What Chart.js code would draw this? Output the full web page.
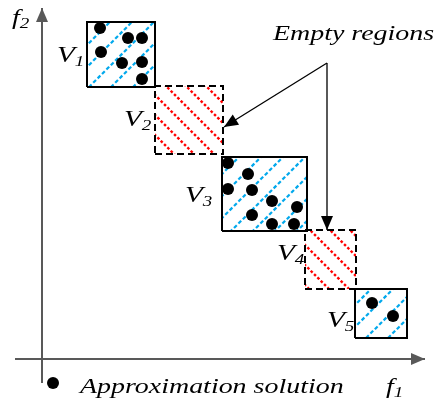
<!DOCTYPE html>
<html>
<head>
<meta charset="utf-8">
<script src="https://cdn.jsdelivr.net/npm/chart.js@4.4.0/dist/chart.umd.min.js"></script>
<style>
  html, body { margin: 0; padding: 0; background: #fff; }
  #wrap { width: 436px; height: 406px; }
</style>
</head>
<body>
<div id="wrap"><canvas id="chart" width="436" height="406"></canvas></div>
<script>
// Regions V1..V5 in objective space (f1, f2)
const regionNames = ['V', 'V', 'V', 'V', 'V'];
const regionSubs = ['1', '2', '3', '4', '5'];
const regionF1Min = [45, 113, 180, 263, 313];
const regionF1Max = [113, 181, 265, 314, 365];
const regionF2Min = [272, 205, 128, 70, 21];
const regionF2Max = [337, 273, 202, 129, 70];
const regionEmpty = [false, true, false, true, false];

// Approximation solutions (black dots)
const solutionF1 = [58, 86, 100, 59, 80, 100, 100, 186, 206, 186, 210, 230, 255, 210, 230, 252, 330, 351];
const solutionF2 = [331, 321, 321, 307, 296, 297, 280, 196, 185, 170, 169, 158, 152, 144, 135, 135, 56, 43];

// Axis extents
const axisF1 = [-27, 383];
const axisF2 = [-24, 351];

// "Empty regions" callout: shared start and the two tips
const calloutStart = [285, 296];
const calloutTipF1 = [182, 285];
const calloutTipF2 = [232, 129];

const TEXT_SX = 1.27;   // the figure is stretched horizontally
const SERIF = '"Liberation Serif", "Times New Roman", serif';

// Dotted diagonal hatch as a canvas pattern
function makeHatch(color, size, steps, rising, frac, width) {
    const c = document.createElement('canvas');
    c.width = size;
    c.height = size;
    const g = c.getContext('2d');
    g.strokeStyle = color;
    g.lineWidth = width;
    g.lineCap = 'butt';
    const step = size / steps;
    const gap = step * (1 - frac) / 2;
    for (let i = 0; i < steps; i++) {
        const a = i * step + gap;
        const b = (i + 1) * step - gap;
        g.beginPath();
        if (rising) {
            g.moveTo(a, size - a);
            g.lineTo(b, size - b);
        } else {
            g.moveTo(a, a);
            g.lineTo(b, b);
        }
        g.stroke();
    }
    return g.createPattern(c, 'repeat');
}

const blueHatch = makeHatch('#00a8ec', 22, 5, true, 0.62, 2.2);
const redHatch = makeHatch('#ff0000', 20, 6, false, 0.55, 2.4);

const regionDatasets = regionF1Min.map((x0, i) => {
    const x1 = regionF1Max[i];
    const y0 = regionF2Min[i];
    const y1 = regionF2Max[i];
    return {
        label: regionNames[i] + regionSubs[i],
        data: [{x: x0, y: y0}, {x: x1, y: y0}, {x: x1, y: y1}, {x: x0, y: y1}, {x: x0, y: y0}],
        showLine: true,
        borderColor: '#000',
        borderWidth: 2,
        borderDash: regionEmpty[i] ? [7, 4] : [],
        backgroundColor: regionEmpty[i] ? redHatch : blueHatch,
        fill: 'shape',
        pointRadius: 0,
        tension: 0,
        order: 3
    };
});

const solutionDataset = {
    label: 'Approximation solution',
    data: solutionF1.map((x, i) => ({x, y: solutionF2[i]})),
    pointRadius: 6,
    pointBackgroundColor: '#000',
    pointBorderWidth: 0,
    showLine: false,
    order: 0
};

function arrowLine(label, pts, color, width) {
    return {
        label,
        data: pts,
        showLine: true,
        borderColor: color,
        borderWidth: width,
        pointRadius: 0,
        fill: false,
        arrow: true,
        order: 1
    };
}

const axisDatasets = [
    arrowLine('f1 axis', [{x: axisF1[0], y: 0}, {x: axisF1[1], y: 0}], '#595959', 2),
    arrowLine('f2 axis', [{x: 0, y: axisF2[0]}, {x: 0, y: axisF2[1]}], '#595959', 2)
];

const calloutDatasets = [
    arrowLine('to V2', [{x: calloutStart[0], y: calloutStart[1]}, {x: calloutTipF1[0], y: calloutTipF2[0]}], '#000', 1.3),
    arrowLine('to V4', [{x: calloutStart[0], y: calloutStart[1]}, {x: calloutTipF1[1], y: calloutTipF2[1]}], '#000', 1.3)
];

// Arrowheads at the end of datasets flagged with arrow: true
const arrowHeads = {
    id: 'arrowHeads',
    afterDatasetsDraw(chart) {
        const ctx = chart.ctx;
        chart.data.datasets.forEach((ds, i) => {
            if (!ds.arrow) return;
            const pts = chart.getDatasetMeta(i).data;
            const tip = pts[pts.length - 1];
            const prev = pts[pts.length - 2];
            const ang = Math.atan2(tip.y - prev.y, tip.x - prev.x);
            const len = 14, half = 6;
            const bx = tip.x - len * Math.cos(ang);
            const by = tip.y - len * Math.sin(ang);
            ctx.save();
            ctx.fillStyle = ds.borderColor;
            ctx.beginPath();
            ctx.moveTo(tip.x, tip.y);
            ctx.lineTo(bx + half * Math.sin(ang), by - half * Math.cos(ang));
            ctx.lineTo(bx - half * Math.sin(ang), by + half * Math.cos(ang));
            ctx.closePath();
            ctx.fill();
            ctx.restore();
        });
    }
};

function drawItalic(ctx, text, sub, px, py, size, subSize) {
    ctx.save();
    ctx.translate(px, py);
    ctx.scale(TEXT_SX, 1);
    ctx.fillStyle = '#000';
    ctx.textBaseline = 'alphabetic';
    ctx.font = 'italic ' + size + 'px ' + SERIF;
    ctx.fillText(text, 0, 0);
    if (sub) {
        const w = ctx.measureText(text).width;
        ctx.font = 'italic ' + subSize + 'px ' + SERIF;
        ctx.fillText(sub, w, 4);
    }
    ctx.restore();
}

// Text labels, legend and axis titles
const figureText = {
    id: 'figureText',
    afterDraw(chart, args, opts) {
        const ctx = chart.ctx;
        const xs = chart.scales.x;
        const ys = chart.scales.y;
        opts.items.forEach(it => {
            drawItalic(ctx, it.text, it.sub, xs.getPixelForValue(it.at[0]), ys.getPixelForValue(it.at[1]), it.size, 15);
        });
        // legend marker
        const lx = xs.getPixelForValue(opts.legendDot[0]);
        const ly = ys.getPixelForValue(opts.legendDot[1]);
        ctx.save();
        ctx.fillStyle = '#000';
        ctx.beginPath();
        ctx.arc(lx, ly, 6, 0, Math.PI * 2);
        ctx.fill();
        ctx.restore();
    }
};

new Chart(document.getElementById('chart'), {
    type: 'scatter',
    data: {
        datasets: [solutionDataset, ...calloutDatasets, ...axisDatasets, ...regionDatasets]
    },
    options: {
        responsive: false,
        animation: false,
        layout: { padding: 0, autoPadding: false },
        plugins: {
            legend: { display: false },
            tooltip: { enabled: false },
            figureText: {
                legendDot: [11, -24],
                items: [
                    { text: 'f', sub: '2', at: [-30, 335], size: 22 },
                    { text: 'V', sub: regionSubs[0], at: [15, 297], size: 23 },
                    { text: 'V', sub: regionSubs[1], at: [82, 233], size: 23 },
                    { text: 'V', sub: regionSubs[2], at: [143, 157], size: 23 },
                    { text: 'V', sub: regionSubs[3], at: [235, 99], size: 23 },
                    { text: 'V', sub: regionSubs[4], at: [285, 32], size: 23 },
                    { text: 'Empty regions', at: [231, 319], size: 22 },
                    { text: 'Approximation solution', at: [38, -34], size: 22 },
                    { text: 'f', sub: '1', at: [344, -34], size: 22 }
                ]
            }
        },
        scales: {
            x: { type: 'linear', min: -42, max: 394, display: false },
            y: { type: 'linear', min: -47, max: 359, display: false }
        }
    },
    plugins: [arrowHeads, figureText]
});
</script>
</body>
</html>
